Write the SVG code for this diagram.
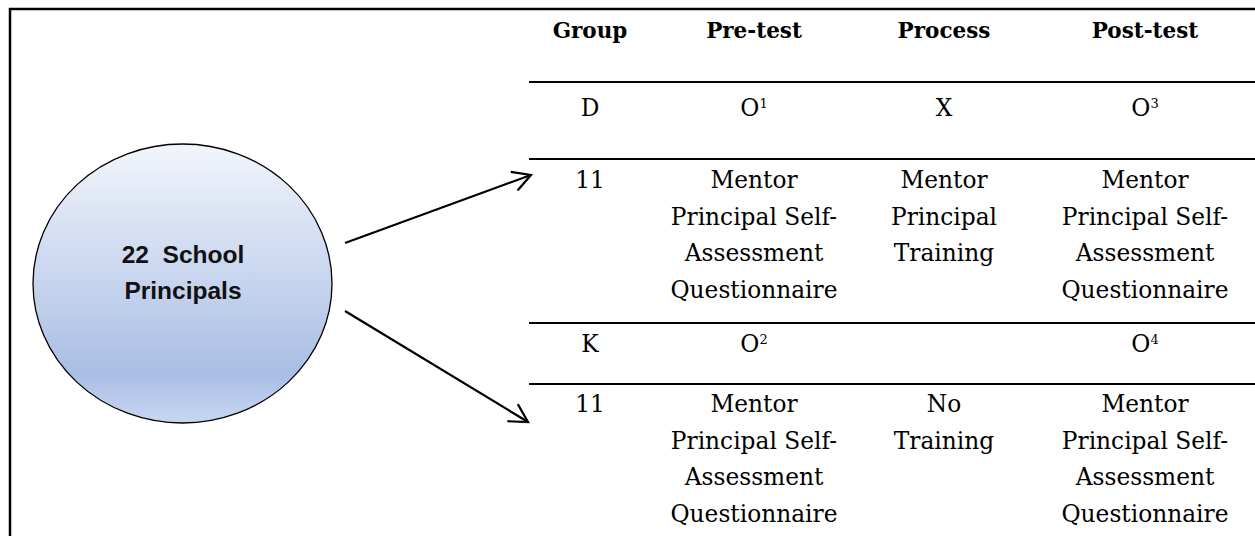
<svg xmlns="http://www.w3.org/2000/svg" width="1255" height="536" viewBox="0 0 1255 536">
<defs>
<linearGradient id="g" x1="0" y1="0" x2="0" y2="1">
<stop offset="0" stop-color="#f2f5fb"/>
<stop offset="0.5" stop-color="#c6d4ee"/>
<stop offset="0.82" stop-color="#a9bee4"/>
<stop offset="1" stop-color="#c8d7f0"/>
</linearGradient>
<marker id="arr" markerUnits="userSpaceOnUse" markerWidth="30" markerHeight="30" viewBox="-25 -15 30 30" refX="0" refY="0" orient="auto">
<path d="M-18,-10 L0,0 L-18,10" fill="none" stroke="#000" stroke-width="2.2"/>
</marker>
<style>
.h{font-family:"DejaVu Serif","Liberation Serif",serif;font-weight:bold;font-size:21.5px;text-anchor:middle;fill:#000}
.t{font-family:"DejaVu Serif","Liberation Serif",serif;font-size:23.3px;text-anchor:middle;fill:#000}
.sup{font-size:13px}
.rule{stroke:#000;stroke-width:2.2}
.c{font-family:"Liberation Sans",Arial,sans-serif;font-weight:bold;font-size:24.5px;text-anchor:middle;fill:#111}
</style>
</defs>
<rect width="1255" height="536" fill="#fff"/>
<g id="frame">
<line x1="9" y1="9" x2="1255" y2="9" stroke="#000" stroke-width="2.5"/>
<line x1="10" y1="8" x2="10" y2="536" stroke="#000" stroke-width="2.5"/>
</g>
<g id="population">
<ellipse cx="182.5" cy="283.5" rx="149.5" ry="139.5" fill="url(#g)" stroke="#000" stroke-width="1.3"/>
<text class="c" x="183" y="263">22&#160; School</text>
<text class="c" x="183" y="299">Principals</text>
</g>
<g id="connectors">
<line x1="345" y1="243" x2="531" y2="175" stroke="#000" stroke-width="2.2" marker-end="url(#arr)"/>
<line x1="345" y1="311" x2="528" y2="422" stroke="#000" stroke-width="2.2" marker-end="url(#arr)"/>
</g>
<g id="table">
<line class="rule" x1="529" y1="82" x2="1255" y2="82"/>
<line class="rule" x1="529" y1="159" x2="1255" y2="159"/>
<line class="rule" x1="529" y1="323" x2="1255" y2="323"/>
<line class="rule" x1="529" y1="384" x2="1255" y2="384"/>
<g id="header">
<text class="h" x="590" y="38">Group</text>
<text class="h" x="754" y="38">Pre-test</text>
<text class="h" x="944" y="38">Process</text>
<text class="h" x="1145" y="38">Post-test</text>
</g>
<g id="row-d">
<text class="t" x="590" y="116">D</text>
<text class="t" x="754" y="116">O<tspan class="sup" dy="-8">1</tspan></text>
<text class="t" x="944" y="116">X</text>
<text class="t" x="1145" y="116">O<tspan class="sup" dy="-8">3</tspan></text>
</g>
<g id="row-d-detail">
<text class="t" x="590" y="188">11</text>
<text class="t" x="754" y="188">Mentor</text>
<text class="t" x="754" y="224.5">Principal Self-</text>
<text class="t" x="754" y="261">Assessment</text>
<text class="t" x="754" y="297.5">Questionnaire</text>
<text class="t" x="944" y="188">Mentor</text>
<text class="t" x="944" y="224.5">Principal</text>
<text class="t" x="944" y="261">Training</text>
<text class="t" x="1145" y="188">Mentor</text>
<text class="t" x="1145" y="224.5">Principal Self-</text>
<text class="t" x="1145" y="261">Assessment</text>
<text class="t" x="1145" y="297.5">Questionnaire</text>
</g>
<g id="row-k">
<text class="t" x="590" y="352">K</text>
<text class="t" x="754" y="352">O<tspan class="sup" dy="-8">2</tspan></text>
<text class="t" x="1145" y="352">O<tspan class="sup" dy="-8">4</tspan></text>
</g>
<g id="row-k-detail">
<text class="t" x="590" y="412">11</text>
<text class="t" x="754" y="412">Mentor</text>
<text class="t" x="754" y="448.5">Principal Self-</text>
<text class="t" x="754" y="485">Assessment</text>
<text class="t" x="754" y="521.5">Questionnaire</text>
<text class="t" x="944" y="412">No</text>
<text class="t" x="944" y="448.5">Training</text>
<text class="t" x="1145" y="412">Mentor</text>
<text class="t" x="1145" y="448.5">Principal Self-</text>
<text class="t" x="1145" y="485">Assessment</text>
<text class="t" x="1145" y="521.5">Questionnaire</text>
</g>
</g>
</svg>
